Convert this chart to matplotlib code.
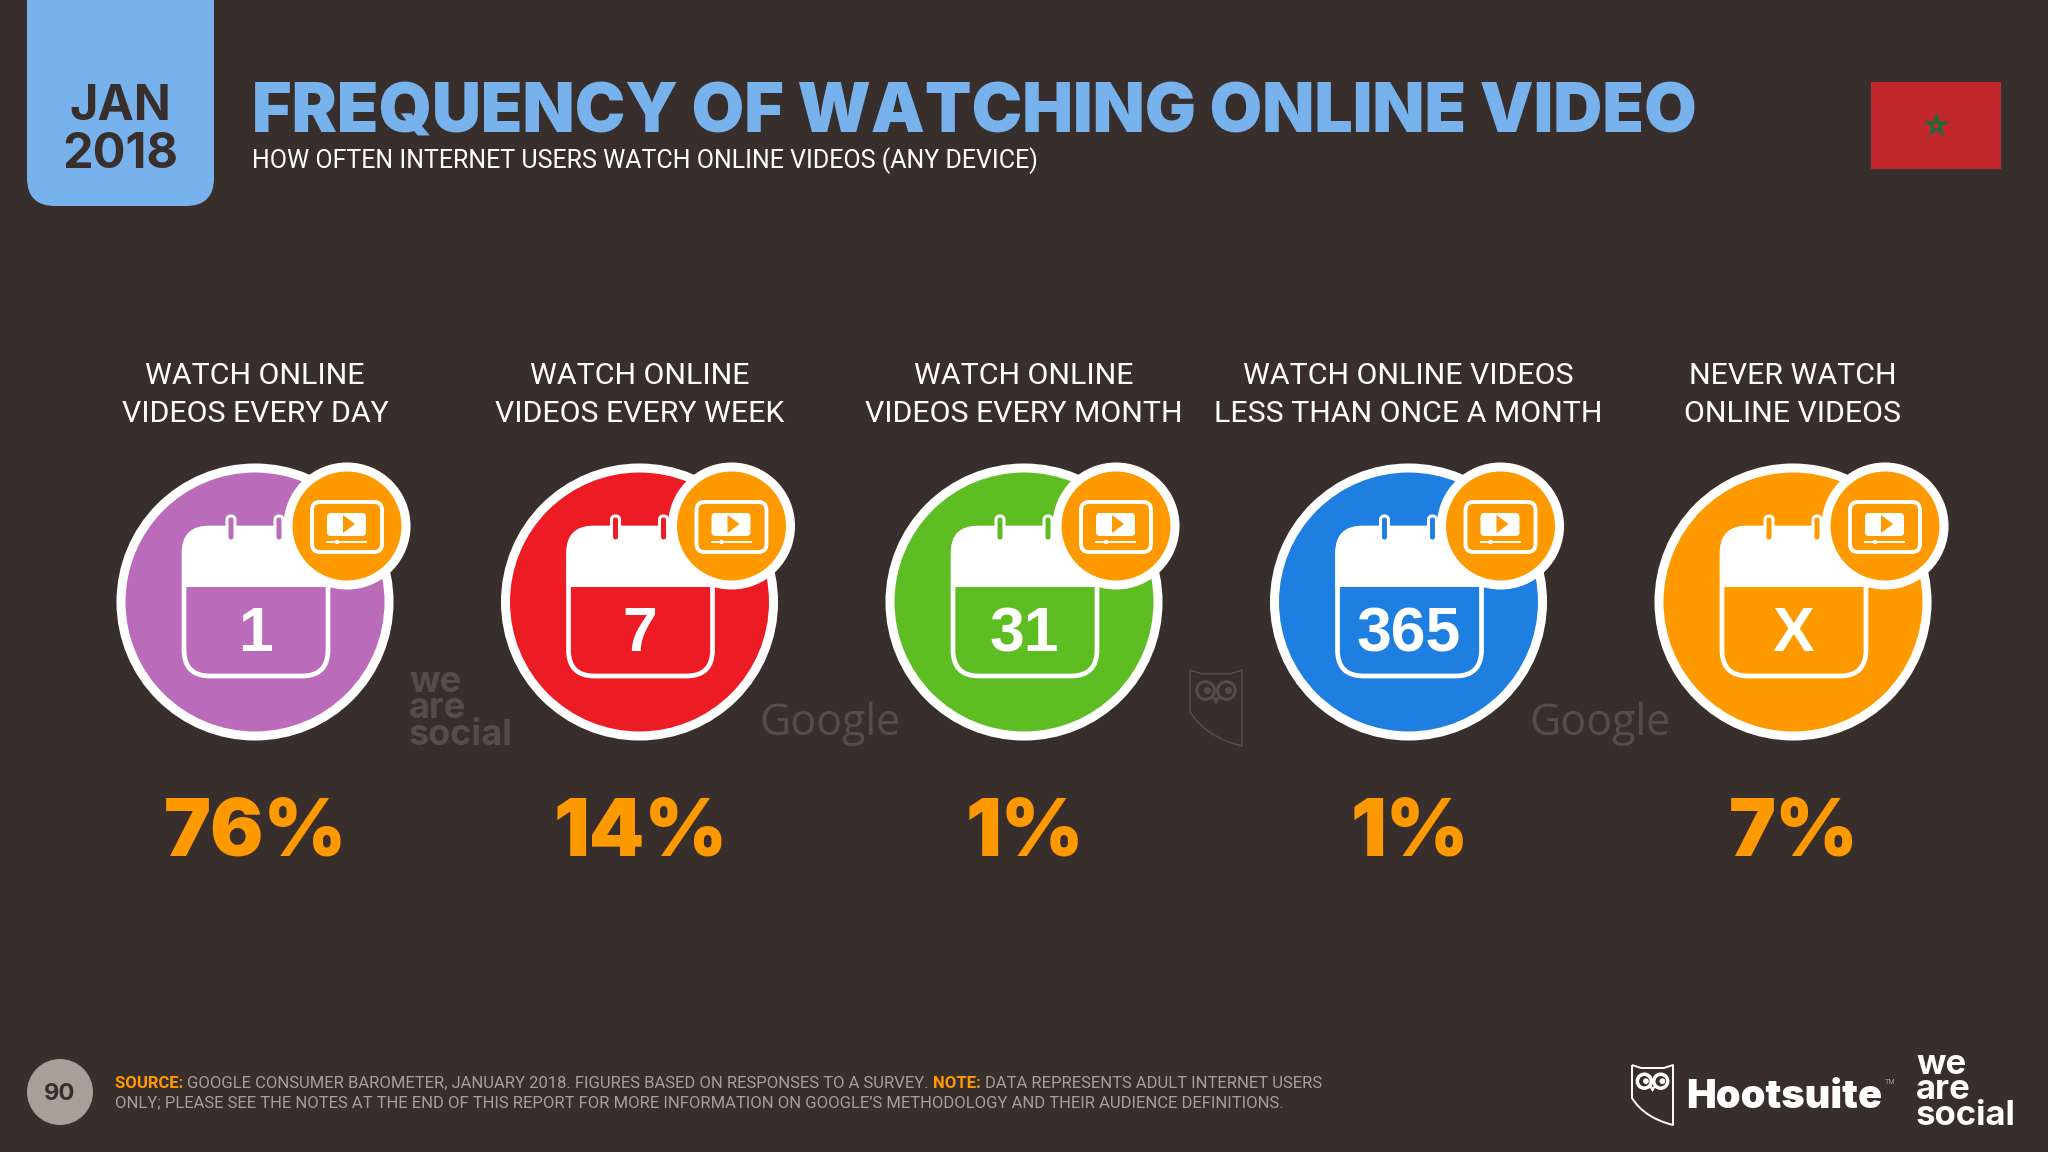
import matplotlib
matplotlib.use("Agg")
import matplotlib.pyplot as plt
from matplotlib.patches import Circle, FancyBboxPatch, PathPatch, Polygon, Rectangle
from matplotlib.path import Path

# chart data
labels = [
    "WATCH ONLINE\nVIDEOS EVERY DAY",
    "WATCH ONLINE\nVIDEOS EVERY WEEK",
    "WATCH ONLINE\nVIDEOS EVERY MONTH",
    "WATCH ONLINE VIDEOS\nLESS THAN ONCE A MONTH",
    "NEVER WATCH\nONLINE VIDEOS",
]
shares = [76, 14, 1, 1, 7]
calendar_marks = ["1", "7", "31", "365", "X"]
colors = ["#BA6CBB", "#ED1C24", "#5DBD22", "#1E7FE0", "#FF9900"]

BG = "#382F2D"
BLUE = "#78B2EC"
ORANGE = "#FF9900"
GREY = "#A89F98"
MARK = "#544D4B"
FONT = "Inter"
THIN = ["Roboto", "DejaVu Sans"]

plt.rcParams["font.family"] = [FONT, "DejaVu Sans"]

fig = plt.figure(figsize=(20.48, 11.52), dpi=100, facecolor=BG)
ax = fig.add_axes([0, 0, 1, 1])
ax.set_xlim(0, 2048)
ax.set_ylim(1152, 0)
ax.axis("off")


def rounded(x0, y0, x1, y1, r, **kw):
    p = FancyBboxPatch((x0 + r, y0 + r), x1 - x0 - 2 * r, y1 - y0 - 2 * r,
                       boxstyle="round,pad=%f,rounding_size=%f" % (r, r), **kw)
    ax.add_patch(p)
    return p


def runs(x, y, parts, size):
    # text pieces of different colour on one line
    r = fig.canvas.get_renderer()
    for s, color, weight in parts:
        t = ax.text(x, y, s, color=color, fontsize=size, fontweight=weight,
                    va="baseline", ha="left", family=THIN)
        x += t.get_window_extent(r).width


def owl(x0, y0, w, h, color, lw):
    # shield outline with two eyes
    verts = [(x0, y0), (x0 + .22 * w, y0 + .05 * h), (x0 + .78 * w, y0 + .05 * h),
             (x0 + w, y0), (x0 + w, y0 + h), (x0 + .3 * w, y0 + .88 * h),
             (x0, y0 + .55 * h), (x0, y0)]
    codes = [Path.MOVETO, Path.LINETO, Path.LINETO, Path.LINETO, Path.LINETO,
             Path.CURVE3, Path.CURVE3, Path.LINETO]
    ax.add_patch(PathPatch(Path(verts, codes), fc="none", ec=color, lw=lw, joinstyle="round"))
    for ex in (.3, .7):
        ax.add_patch(Circle((x0 + ex * w, y0 + .27 * h), .17 * w, fc="none", ec=color, lw=lw * 1.8))
        ax.add_patch(Circle((x0 + (ex + .04) * w, y0 + .27 * h), .07 * w, fc=color, ec="none"))
    ax.add_patch(Polygon([(x0 + .42 * w, y0 + .36 * h), (x0 + .58 * w, y0 + .36 * h),
                          (x0 + .5 * w, y0 + .45 * h)], fc=color, ec="none"))


def icon(cx, cy, color, mark):
    ax.add_patch(Circle((cx, cy), 134, fc=color, ec="white", lw=6.5))
    # calendar
    rounded(cx - 71, cy - 74, cx + 73, cy + 74, 26, fc=color, ec="white", lw=3.4)
    ax.add_patch(PathPatch(Path(
        [(cx - 73, cy - 15), (cx - 73, cy - 50), (cx - 73, cy - 76), (cx - 47, cy - 76),
         (cx + 49, cy - 76), (cx + 75, cy - 76), (cx + 75, cy - 50), (cx + 75, cy - 15),
         (cx - 73, cy - 15)],
        [Path.MOVETO, Path.LINETO, Path.CURVE3, Path.CURVE3, Path.LINETO, Path.CURVE3,
         Path.CURVE3, Path.LINETO, Path.CLOSEPOLY]), fc="white", ec="none"))
    for rx in (-24, 24):
        rounded(cx + rx - 4, cy - 86, cx + rx + 4, cy - 61, 4, fc=color, ec="white", lw=2.2)
    ax.text(cx, cy + 26, mark, color="white", ha="center", va="center_baseline",
            fontsize=45, fontweight="bold", family=["Liberation Sans", "DejaVu Sans"])
    # video badge
    bx, by = cx + 92, cy - 76
    ax.add_patch(Circle((bx, by), 59, fc=ORANGE, ec="white", lw=6.5))
    rounded(bx - 35, by - 24, bx + 35, by + 26, 8, fc=ORANGE, ec="white", lw=2.8)
    rounded(bx - 20, by - 13, bx + 19, by + 10, 4, fc="white", ec="none")
    ax.add_patch(Polygon([(bx - 4, by - 11), (bx + 8, by - 2), (bx - 4, by + 7)], fc=ORANGE, ec="none"))
    ax.plot([bx - 20, bx + 19], [by + 16, by + 16], color="white", lw=1.4)
    ax.add_patch(Circle((bx - 10, by + 16), 2.2, fc="white", ec="none"))


# header
rounded(27, -40, 214, 206, 28, fc=BLUE, ec="none")
ax.text(120, 120, "JAN", color=BG, fontsize=35, fontweight="bold", ha="center", va="baseline")
ax.text(120, 168, "2018", color=BG, fontsize=35, fontweight="bold", ha="center", va="baseline")
ax.text(252, 132, "FREQUENCY OF WATCHING ONLINE VIDEO", color=BLUE, fontsize=48.9,
        fontweight="black", va="baseline")
ax.text(252, 168, "HOW OFTEN INTERNET USERS WATCH ONLINE VIDEOS (ANY DEVICE)", color="white",
        fontsize=18, va="baseline", family=THIN)

# flag
ax.add_patch(Rectangle((1871, 82), 130, 87, fc="#C1272D", ec="none"))
ax.scatter([1936], [125], marker="*", s=380, color="#1F6B35", linewidths=0, zorder=3)
ax.add_patch(Circle((1936, 126), 2.6, fc="#C1272D", ec="none", zorder=4))

# columns
for i, (label, share, mark, color) in enumerate(zip(labels, shares, calendar_marks, colors)):
    cx = 255 + i * 384.5
    ax.text(cx, 395, label, color="white", fontsize=21.8, ha="center", va="center",
            linespacing=1.45, family=THIN)
    icon(cx, 602, color, mark)
    ax.text(cx + 1, 855, "%d%%" % share, color=ORANGE, fontsize=57, fontweight="black",
            ha="center", va="baseline")

# watermarks
ax.text(409, 752, "we\nare\nsocial", color=MARK, fontsize=26, fontweight="bold",
        va="bottom", linespacing=0.75)
for gx in (830, 1600):
    ax.text(gx, 735, "Google", color=MARK, fontsize=31, ha="center", va="baseline",
            family=["Open Sans", "DejaVu Sans"])
owl(1190, 670, 52, 76, MARK, 1.2)

# footer
ax.add_patch(Circle((60, 1092), 33, fc=GREY, ec="none"))
ax.text(60, 1092, "90", color=BG, fontsize=17, fontweight="bold", ha="center", va="center_baseline")
runs(115, 1088, [("SOURCE: ", ORANGE, "bold"),
                 ("GOOGLE CONSUMER BAROMETER, JANUARY 2018. FIGURES BASED ON RESPONSES TO A SURVEY. ", GREY, "normal"),
                 ("NOTE: ", ORANGE, "bold"),
                 ("DATA REPRESENTS ADULT INTERNET USERS", GREY, "normal")], 12)
runs(115, 1107, [("ONLY; PLEASE SEE THE NOTES AT THE END OF THIS REPORT FOR MORE INFORMATION ON GOOGLE\u2019S METHODOLOGY AND THEIR AUDIENCE DEFINITIONS.", GREY, "normal")], 12)

# logos
owl(1632, 1065, 41, 60, "white", 1.4)
ax.text(1686, 1108, "Hootsuite", color="white", fontsize=28.5, fontweight="black", va="baseline")
ax.text(1885, 1084, "TM", color=GREY, fontsize=5, va="baseline")
ax.text(1916, 1132, "we\nare\nsocial", color="white", fontsize=25, fontweight="bold",
        va="bottom", linespacing=0.75)

fig.savefig("out.png", dpi=100, facecolor=BG)
